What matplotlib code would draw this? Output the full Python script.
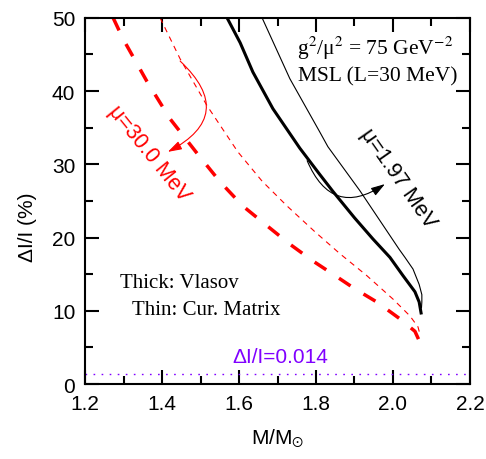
import numpy as np
import matplotlib
matplotlib.use('Agg')
import matplotlib.pyplot as plt
from matplotlib.ticker import MultipleLocator

plt.rcParams['font.family'] = ['Liberation Sans', 'DejaVu Sans']
plt.rcParams['mathtext.fontset'] = 'stix'
plt.rcParams['lines.scale_dashes'] = False

# Vlasov (thick) and current matrix (thin), mu = 1.97 MeV
m_vla_197 = [1.569, 1.603, 1.636, 1.688, 1.758, 1.810, 1.844, 1.900, 1.948, 1.992,
             2.026, 2.057, 2.068, 2.073]
d_vla_197 = [50.0, 46.6, 42.6, 37.6, 32.2, 28.6, 26.3, 22.7, 19.8, 17.3,
             14.8, 12.6, 11.2, 9.7]
m_cm_197 = [1.660, 1.732, 1.810, 1.831, 1.914, 2.016, 2.031, 2.052, 2.068, 2.075, 2.075, 2.074]
d_cm_197 = [50.0, 41.7, 34.4, 32.4, 26.4, 18.4, 17.3, 15.7, 13.6, 12.2, 11.2, 10.4]

# mu = 30.0 MeV
m_vla_30 = [1.273, 1.299, 1.361, 1.421, 1.491, 1.551, 1.610, 1.673, 1.732, 1.792,
            1.844, 1.901, 1.958, 2.018, 2.057, 2.070]
d_vla_30 = [50.0, 47.1, 41.3, 36.2, 31.5, 27.6, 24.3, 21.6, 19.1, 16.8,
            15.0, 13.0, 11.2, 8.9, 7.2, 5.7]
m_cm_30 = [1.395, 1.447, 1.517, 1.597, 1.660, 1.725, 1.797, 1.862, 1.932, 2.000,
           2.044, 2.065, 2.070]
d_cm_30 = [50.0, 44.4, 38.0, 31.7, 27.7, 24.3, 20.8, 17.8, 14.8, 11.6,
           9.3, 7.8, 6.8]

# glitch size limit
dI_lim = 1.4

fig = plt.figure(figsize=(4.86, 4.6), dpi=100)
ax = fig.add_axes([0.175, 0.163, 0.792, 0.796])

ax.plot(m_vla_197, d_vla_197, color='black', lw=2.2)
ax.plot(m_cm_197, d_cm_197, color='black', lw=0.8)
ax.plot(m_vla_30, d_vla_30, color='red', lw=2.5, dashes=(10, 11))
ax.plot(m_cm_30, d_cm_30, color='red', lw=0.8, dashes=(4, 3.5))
ax.axhline(dI_lim, color='#8000ff', lw=1.0, dashes=(1.2, 4.6))

# curved arrows pointing at the labels
ax.annotate('', xy=(1.415, 31.7), xytext=(1.447, 44.1),
            arrowprops=dict(arrowstyle='-|>,head_length=0.7,head_width=0.22',
                            color='red', lw=0.8, mutation_scale=12,
                            shrinkA=0, shrinkB=0,
                            connectionstyle='arc3,rad=-0.7'))
ax.annotate('', xy=(1.979, 27.3), xytext=(1.777, 30.5),
            arrowprops=dict(arrowstyle='-|>,head_length=0.7,head_width=0.22',
                            color='black', lw=0.8, mutation_scale=12,
                            shrinkA=0, shrinkB=0,
                            connectionstyle='arc3,rad=0.6'))

ax.text(1.365, 31.6, 'μ=30.0 MeV', color='red', fontsize=15.5,
        rotation=-51, ha='center', va='center')
ax.text(2.012, 28.1, 'μ=1.97 MeV', color='black', fontsize=15.5,
        rotation=-55, ha='center', va='center')

ax.text(1.751, 45.1, r'g$^2$/μ$^2$ = 75 GeV$^{-2}$', family='Liberation Serif',
        fontsize=15.5, va='baseline')
ax.text(1.753, 41.4, 'MSL (L=30 MeV)', family='Liberation Serif',
        fontsize=15.5, va='baseline')
ax.text(1.291, 13.25, 'Thick: Vlasov', family='Liberation Serif',
        fontsize=15, va='baseline')
ax.text(1.322, 9.56, 'Thin: Cur. Matrix', family='Liberation Serif',
        fontsize=15, va='baseline')
ax.text(1.582, 3.0, 'ΔI/I=0.014', color='#8000ff', fontsize=15, va='baseline')

ax.set_xlim(1.2, 2.2)
ax.set_ylim(0, 50)
ax.xaxis.set_major_locator(MultipleLocator(0.2))
ax.xaxis.set_minor_locator(MultipleLocator(0.1))
ax.yaxis.set_major_locator(MultipleLocator(10))
ax.yaxis.set_minor_locator(MultipleLocator(5))
ax.set_xticks(np.arange(1.2, 2.21, 0.2))
ax.set_xticklabels(['1.2', '1.4', '1.6', '1.8', '2.0', '2.2'])
ax.tick_params(which='both', direction='in', top=True, right=True, width=1.5)
ax.tick_params(which='major', length=10, labelsize=15, pad=7)
ax.tick_params(which='minor', length=5.5)
for s in ax.spines.values():
    s.set_linewidth(1.5)

ax.set_xlabel(r'M/M$_{\odot}$', fontsize=15, labelpad=10)
ax.set_ylabel('ΔI/I (%)', fontsize=15)
ax.yaxis.set_label_coords(-0.125, 0.43)

fig.savefig('out.png', dpi=100)
